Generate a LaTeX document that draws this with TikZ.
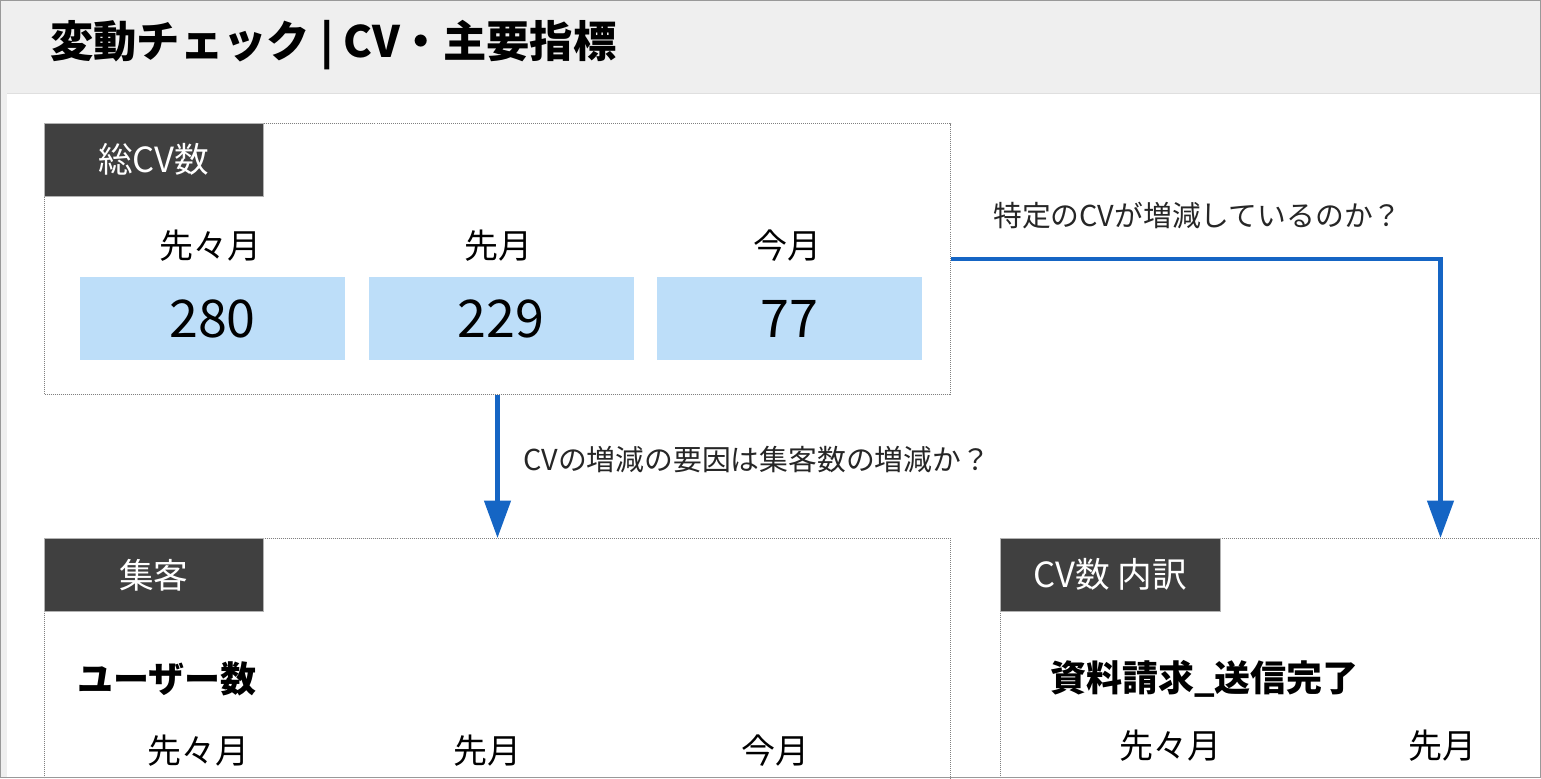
\documentclass[tikz,border=0pt]{standalone}
\usepackage{fontspec}
\setmainfont{Noto Sans CJK JP}
\usetikzlibrary{arrows.meta}
\newcommand{\pxu}{0.75pt}
\definecolor{tabgray}{HTML}{404040}
\definecolor{valblue}{HTML}{BDDEF9}
\definecolor{flowblue}{HTML}{1565C4}
\definecolor{headgray}{HTML}{EFEFEF}
\tikzset{
  panel/.style={draw=gray, line width=0.75pt, dash pattern=on 0.75pt off 0.75pt, anchor=north west, inner sep=0pt},
  tab/.style={fill=tabgray, draw=gray!60, text=white, anchor=north west, minimum width=219*\pxu, minimum height=73*\pxu, inner sep=0pt, font=\fontsize{26}{26}\selectfont},
  valbox/.style={fill=valblue, minimum width=265*\pxu, minimum height=83*\pxu, inner sep=0pt, font=\fontsize{39}{39}\selectfont},
  month/.style={inner sep=0pt, font=\fontsize{25.5}{25.5}\selectfont},
  question/.style={anchor=west, inner sep=0pt, text=black!85, font=\fontsize{21.6}{21.6}\selectfont},
  metric/.style={anchor=west, inner sep=0pt, font=\bfseries\fontsize{27}{27}\selectfont},
  flow/.style={draw=flowblue, line width=3.2pt, -{Triangle[length=28pt, width=19.5pt]}}
}
\begin{document}
\begin{tikzpicture}[x=0.75pt, y=-0.75pt]
    \useasboundingbox (0,0) rectangle (1541,778);
    \clip (0,0) rectangle (1541,778);
    % background and header
    \fill[headgray] (0,0) rectangle (1541,778);
    \fill[white] (7,93) rectangle (1541,778);
    \draw[gray!25, line width=0.75pt] (7,93) -- (1541,93);
    \node[anchor=west, inner sep=0pt, font=\bfseries\fontsize{32.5}{32.5}\selectfont] (title) at (50,45) {変動チェック | CV・主要指標};
    % panels
    \node[panel, minimum width=906*\pxu, minimum height=271*\pxu] (total) at (44,123) {};
    \node[panel, minimum width=906*\pxu, minimum height=400*\pxu] (visitor) at (44,538) {};
    \node[panel, minimum width=880*\pxu, minimum height=400*\pxu] (breakdown) at (1000,538) {};
    \node[tab] (totaltab) at (total.north west) {総CV数};
    \node[tab] (visitortab) at (visitor.north west) {集客};
    \node[tab, minimum width=220*\pxu] (breakdowntab) at (breakdown.north west) {CV数 内訳};
    % total CV values
    \node[month] (prev2) at (210,246) {先々月};
    \node[month] (prev1) at (498,246) {先月};
    \node[month] (now) at (787,246) {今月};
    \node[valbox] (prev2val) at (212.5,318.5) {280};
    \node[valbox] (prev1val) at (501,318.5) {229};
    \node[valbox] (nowval) at (789.5,318.5) {77};
    % visitors
    \node[metric] (users) at (77,679) {ユーザー数};
    \node[month] (uprev2) at (198,751) {先々月};
    \node[month] (uprev1) at (487,751) {先月};
    \node[month] (unow) at (775,751) {今月};
    % breakdown
    \node[metric] (request) at (1050,679) {資料請求\_送信完了};
    \node[month] (rprev2) at (1170,746) {先々月};
    \node[month] (rprev1) at (1442,746) {先月};
    % flows
    \node[question] (whyvisit) at (523,460) {CVの増減の要因は集客数の増減か？};
    \node[question] (whichcv) at (993,216) {特定のCVが増減しているのか？};
    \draw[flow] (total.south) -- (visitor.north);
    \draw[flow] (total.east) -| (breakdown.north);
    % frame
    \draw[gray!80, line width=0.75pt] (0.5,0.5) rectangle (1540.5,777.5);
\end{tikzpicture}
\end{document}
